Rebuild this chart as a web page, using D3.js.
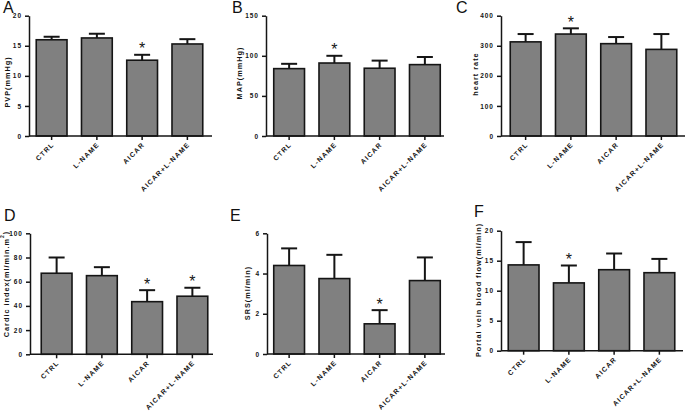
<!DOCTYPE html>
<html><head><meta charset="utf-8">
<script src="https://cdn.jsdelivr.net/npm/d3@7"></script>
<style>
html,body{margin:0;padding:0;background:#fff;}
svg{display:block;font-family:"Liberation Sans",Arial,sans-serif;}
.tick text{font-weight:bold;}
</style></head>
<body><svg id="c" width="685" height="412"></svg>
<script>
// ---- data ----
const categories = ["CTRL", "L-NAME", "AICAR", "AICAR+L-NAME"];

const pvpMean  = [16.0, 16.3, 12.6, 15.3];
const pvpErr   = [0.5, 0.7, 0.9, 0.8];
const pvpSig   = [false, false, true, false];
const pvpTicks = [0, 5, 10, 15, 20];

const mapMean  = [84, 91, 84.5, 89];
const mapErr   = [6, 9, 9.5, 9.5];
const mapSig   = [false, true, false, false];
const mapTicks = [0, 50, 100, 150];

const hrMean   = [313, 339, 307, 288];
const hrErr    = [26, 19, 22, 51];
const hrSig    = [false, true, false, false];
const hrTicks  = [0, 100, 200, 300, 400];

const ciMean   = [67, 65, 43.5, 48];
const ciErr    = [13, 7, 9.5, 7];
const ciSig    = [false, false, true, true];
const ciTicks  = [0, 20, 40, 60, 80, 100];

const srsMean  = [4.4, 3.75, 1.5, 3.65];
const srsErr   = [0.85, 1.18, 0.68, 1.15];
const srsSig   = [false, false, true, false];
const srsTicks = [0, 2, 4, 6];

const pvbfMean  = [14.3, 11.3, 13.5, 13.0];
const pvbfErr   = [3.8, 2.9, 2.7, 2.3];
const pvbfSig   = [false, true, false, false];
const pvbfTicks = [0, 5, 10, 15, 20];

const panelLetters = ["A", "B", "C", "D", "E", "F"];
const yLabels = ["PVP(mmHg)", "MAP(mmHg)", "heart rate", "Cardic index(ml/min.m", "SRS(ml/min)", "Portal vein blood flow(ml/min)"];

// ---- layout (positions only) ----
const panels = [
  {mean: pvpMean, err: pvpErr, sig: pvpSig, ticks: pvpTicks, x0: 29,  x1: 212, yT: 15.7,  yB: 136,   dx: 0,   lx: 7,   ly: 82,  L: [3, 13]},
  {mean: mapMean, err: mapErr, sig: mapSig, ticks: mapTicks, x0: 266, x1: 444, yT: 15.7,  yB: 136,   dx: 0.5, lx: 239, ly: 73,  L: [232, 13]},
  {mean: hrMean,  err: hrErr,  sig: hrSig,  ticks: hrTicks,  x0: 501, x1: 685, yT: 15.7,  yB: 136,   dx: 2,   lx: 475, ly: 74,  L: [456, 13]},
  {mean: ciMean,  err: ciErr,  sig: ciSig,  ticks: ciTicks,  x0: 30,  x1: 213, yT: 233.3, yB: 354.3, dx: 4,   lx: 6,   ly: 284, L: [4, 221], sup: "2"},
  {mean: srsMean, err: srsErr, sig: srsSig, ticks: srsTicks, x0: 267, x1: 445, yT: 233.3, yB: 354,   dx: -0.5,lx: 247, ly: 293, L: [230, 221]},
  {mean: pvbfMean,err: pvbfErr,sig: pvbfSig,ticks: pvbfTicks,x0: 501, x1: 683, yT: 230.7, yB: 350.7, dx: 0,   lx: 478, ly: 290, L: [474, 217]}
];

const svg = d3.select("#c");
const dark = "#151515";

panels.forEach((p, i) => {
  const g = svg.append("g");
  const y = d3.scaleLinear().domain([0, d3.max(p.ticks)]).range([p.yB, p.yT]);
  const x = d3.scaleBand().domain(categories)
    .range([p.x0 + p.dx, p.x0 + p.dx + 181]).paddingInner(0.32).paddingOuter(0.16);

  // bars
  g.selectAll("rect.bar").data(categories).join("rect")
    .attr("x", d => x(d)).attr("width", x.bandwidth())
    .attr("y", (d, k) => y(p.mean[k])).attr("height", (d, k) => y(0) - y(p.mean[k]))
    .attr("fill", "#808080").attr("stroke", dark).attr("stroke-width", 1.6);

  // error bars (upper only)
  const cx = d => x(d) + x.bandwidth() / 2;
  g.selectAll("line.ev").data(categories).join("line")
    .attr("x1", cx).attr("x2", cx)
    .attr("y1", (d, k) => y(p.mean[k])).attr("y2", (d, k) => y(p.mean[k] + p.err[k]))
    .attr("stroke", dark).attr("stroke-width", 2);
  g.selectAll("line.ec").data(categories).join("line")
    .attr("x1", d => cx(d) - 8).attr("x2", d => cx(d) + 8)
    .attr("y1", (d, k) => y(p.mean[k] + p.err[k])).attr("y2", (d, k) => y(p.mean[k] + p.err[k]))
    .attr("stroke", dark).attr("stroke-width", 2);

  // significance stars
  g.selectAll("text.star").data(categories.filter((d, k) => p.sig[k])).join("text")
    .attr("x", cx)
    .attr("y", d => { const k = categories.indexOf(d); return y(p.mean[k] + p.err[k]) - 0.5; })
    .attr("text-anchor", "middle").attr("font-size", 16).attr("fill", dark).text("*");

  // y axis
  const ya = g.append("g").attr("transform", `translate(${p.x0},0)`)
    .call(d3.axisLeft(y).tickValues(p.ticks).tickFormat(d3.format("d")).tickSize(4).tickSizeOuter(0).tickPadding(3));
  ya.select(".domain").attr("stroke", dark).attr("stroke-width", 1.5);
  ya.selectAll(".tick line").attr("stroke", dark).attr("stroke-width", 1.5);
  ya.selectAll(".tick text").attr("font-size", 6.5).attr("letter-spacing", 1).attr("fill", dark)
    .attr("font-family", "Liberation Sans, Arial, sans-serif");

  // x axis
  g.append("line").attr("x1", p.x0).attr("x2", p.x1).attr("y1", p.yB).attr("y2", p.yB)
    .attr("stroke", dark).attr("stroke-width", 1.5);
  const xa = g.append("g").attr("transform", `translate(0,${p.yB})`)
    .call(d3.axisBottom(x).tickSize(4).tickSizeOuter(0).tickPadding(2));
  xa.select(".domain").remove();
  xa.selectAll(".tick line").attr("stroke", dark).attr("stroke-width", 1.5);
  xa.selectAll(".tick text").attr("font-size", 6.8).attr("letter-spacing", 1.2).attr("fill", dark)
    .attr("font-family", "Liberation Sans, Arial, sans-serif")
    .attr("text-anchor", "end").attr("dy", 0).attr("y", 0)
    .attr("transform", "translate(3,9) rotate(-45)");

  // y label
  const t = g.append("text")
    .attr("transform", `translate(${p.lx},${p.ly}) rotate(-90)`)
    .attr("text-anchor", "middle").attr("dy", "0.35em")
    .attr("font-size", 7.3).attr("font-weight", "bold").attr("letter-spacing", 1).attr("fill", dark);
  t.append("tspan").text(yLabels[i]);
  if (p.sup) {
    t.append("tspan").attr("font-size", 5).attr("dy", "-0.9em").text(p.sup);
    t.append("tspan").attr("dy", "0.6em").text(")");
  }

  // panel letter
  g.append("text").attr("x", p.L[0]).attr("y", p.L[1])
    .attr("font-size", 16).attr("fill", "#111").text(panelLetters[i]);
});
</script></body></html>
